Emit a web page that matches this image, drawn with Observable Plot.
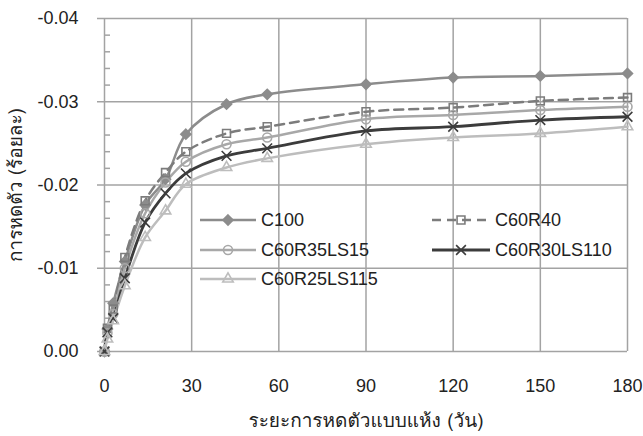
<!DOCTYPE html>
<html><head><meta charset="utf-8">
<script src="https://cdn.jsdelivr.net/npm/d3@7"></script>
<script src="https://cdn.jsdelivr.net/npm/@observablehq/plot@0.6"></script>
<style>
html,body{margin:0;padding:0;background:#fff;}
#wrap{position:relative;width:643px;height:436px;font-family:"Liberation Sans",Arial,sans-serif;}
#legend{position:absolute;left:0;top:0;width:643px;height:436px;pointer-events:none;}
.li{position:absolute;display:flex;align-items:center;font-size:18px;color:#222;height:24px;}
.li svg{display:block;margin-right:5px;}
</style>
</head><body><div id="wrap"></div>
<script>
const days = [0, 1, 3, 7, 14, 21, 28, 42, 56, 90, 120, 150, 180];
const C100        = [0, -0.0027, -0.0058, -0.0108, -0.0176, -0.0207, -0.0261, -0.0297, -0.0309, -0.0321, -0.0329, -0.0331, -0.0334];
const C60R40      = [0, -0.0028, -0.0051, -0.0113, -0.0181, -0.0215, -0.0240, -0.0262, -0.0270, -0.0288, -0.0293, -0.0301, -0.0305];
const C60R35LS15  = [0, -0.0022, -0.0045, -0.0100, -0.0166, -0.0203, -0.0228, -0.0249, -0.0257, -0.0279, -0.0284, -0.0290, -0.0294];
const C60R30LS110 = [0, -0.0023, -0.0040, -0.0088, -0.0155, -0.0190, -0.0214, -0.0235, -0.0244, -0.0265, -0.0270, -0.0278, -0.0282];
const C60R25LS115 = [0, -0.0015, -0.0037, -0.0079, -0.0137, -0.0169, -0.0201, -0.0221, -0.0232, -0.0249, -0.0257, -0.0262, -0.0270];
const xTicks = [0, 30, 60, 90, 120, 150, 180];
const yTicks = [0, -0.01, -0.02, -0.03, -0.04];
const yMinor = [-0.002,-0.004,-0.006,-0.008,-0.012,-0.014,-0.016,-0.018,-0.022,-0.024,-0.026,-0.028,-0.032,-0.034,-0.036,-0.038];
const xTitle = "ระยะการหดตัวแบบแห้ง (วัน)";
const yTitle = "การหดตัว (ร้อยละ)";

const seriesDefs = [
  {name:"C100", values:C100, color:"#8c8c8c", width:2.5, dash:null, symbol:"diamond2", fill:"#8c8c8c", r:4.5},
  {name:"C60R40", values:C60R40, color:"#7c7c7c", width:2.5, dash:"9,6", symbol:"square2", fill:"none", r:5},
  {name:"C60R35LS15", values:C60R35LS15, color:"#a8a8a8", width:2.5, dash:null, symbol:"circle", fill:"none", r:4.5},
  {name:"C60R30LS110", values:C60R30LS110, color:"#3c3c3c", width:2.8, dash:null, symbol:"times", fill:"none", r:4.5},
  {name:"C60R25LS115", values:C60R25LS115, color:"#bdbdbd", width:2.5, dash:null, symbol:"triangle2", fill:"none", r:5}
];
const gridColor = "#a3a3a3";
const thaiFont = '"Loma", "Garuda", "Norasi", "Sarabun", "Noto Sans Thai", "Liberation Sans", sans-serif';

const marks = [
  Plot.gridX(xTicks, {stroke: gridColor, strokeOpacity: 1, strokeWidth: 1.5}),
  Plot.gridY(yTicks, {stroke: gridColor, strokeOpacity: 1, strokeWidth: 1.5}),
  Plot.axisY(yMinor, {tickSize: -6, text: null, stroke: gridColor, strokeWidth: 1.5, label: null}),
  Plot.axisY(yTicks, {tickSize: 7, tickPadding: 19, stroke: gridColor, strokeWidth: 1.5, fontSize: 18, fill: "#222",
    tickFormat: d => d === 0 ? "0.00" : d3.format(".2f")(d).replace("−","-"),
    label: yTitle, labelAnchor: "center", labelArrow: "none", labelOffset: 96}),
  Plot.axisX(xTicks, {tickSize: 0, tickPadding: 28, fontSize: 18, fill: "#222",
    label: xTitle, labelAnchor: "center", labelArrow: "none", labelOffset: 75})
];
for (const s of seriesDefs) {
  const data = days.map((d, i) => ({d, v: s.values[i]}));
  marks.push(Plot.line(data, {x: "d", y: "v", stroke: s.color, strokeWidth: s.width, curve: "catmull-rom", strokeDasharray: s.dash}));
}
for (const s of seriesDefs) {
  const data = days.map((d, i) => ({d, v: s.values[i]}));
  marks.push(Plot.dot(data, {x: "d", y: "v", symbol: () => s.symbol, r: s.r, stroke: s.color, strokeWidth: 1.6, fill: s.fill}));
}

const chart = Plot.plot({
  width: 643, height: 436,
  marginLeft: 104, marginRight: 16, marginTop: 18, marginBottom: 85,
  style: {fontFamily: '"Liberation Sans", Arial, sans-serif', fontSize: "18px", background: "#fff", overflow: "visible"},
  x: {domain: [0, 180]},
  y: {domain: [0, -0.04]},
  symbol: {type: "identity"},
  marks
});
const wrap = document.getElementById("wrap");
wrap.appendChild(chart);
chart.querySelectorAll('[aria-label="y-axis label"] text, [aria-label="x-axis label"] text').forEach(t => {
  t.style.fontSize = "19px"; t.style.fontFamily = thaiFont; t.setAttribute("fill", "#222");
});

// legend
const legend = document.createElement("div");
legend.id = "legend";
const pos = [[200,208],[432,208],[200,238],[432,238],[200,267]];
const symMap = {"diamond2":d3.symbolDiamond2,"square2":d3.symbolSquare2,"circle":d3.symbolCircle,"times":d3.symbolTimes,"triangle2":d3.symbolTriangle2};
seriesDefs.forEach((s, i) => {
  const item = document.createElement("div");
  item.className = "li";
  item.style.left = pos[i][0] + "px";
  item.style.top = pos[i][1] + "px";
  const w = i % 2 === 1 ? 58 : 56;
  const sym = d3.symbol(symMap[s.symbol], Math.PI * s.r * s.r)();
  item.innerHTML = `<svg width="${w}" height="24"><line x1="0" x2="${w}" y1="12" y2="12" stroke="${s.color}" stroke-width="${s.width}" ${s.dash ? `stroke-dasharray="${s.dash}"` : ""}/><path transform="translate(${w/2},12)" d="${sym}" stroke="${s.color}" stroke-width="1.6" fill="${s.fill}"/></svg><span>${s.name}</span>`;
  legend.appendChild(item);
});
wrap.appendChild(legend);
</script></body></html>
